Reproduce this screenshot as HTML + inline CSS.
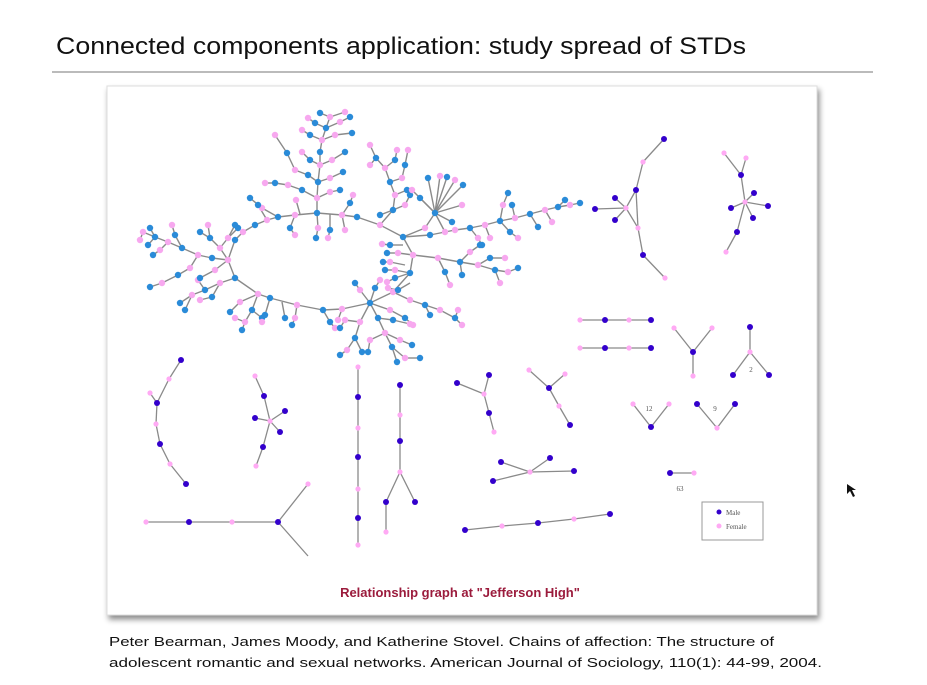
<!DOCTYPE html>
<html><head><meta charset="utf-8">
<style>
html,body{margin:0;padding:0;background:#fff;}
body{width:927px;height:680px;overflow:hidden;position:relative;font-family:"Liberation Sans",sans-serif;}
</style></head>
<body>
<svg id="page" width="927" height="680" viewBox="0 0 927 680" xmlns="http://www.w3.org/2000/svg">
  <defs>
    <filter id="sh" x="-5%" y="-5%" width="110%" height="112%">
      <feDropShadow dx="2" dy="4" stdDeviation="3" flood-color="#000" flood-opacity="0.45"/>
    </filter>
  </defs>
  <text x="56" y="54" font-family="Liberation Sans, sans-serif" font-size="24" fill="#111" textLength="690" lengthAdjust="spacingAndGlyphs">Connected components application:  study spread of STDs</text>
  <line x1="52" y1="72" x2="873" y2="72" stroke="#bbb" stroke-width="2"/>
  <rect x="107" y="86" width="710" height="529" fill="#fff" stroke="#ddd" stroke-width="1" filter="url(#sh)"/>
  <g id="graph"></g>
  <g>
    <rect x="702" y="502" width="61" height="38" fill="#fff" stroke="#999" stroke-width="1"/>
    <circle cx="719" cy="512" r="2.5" fill="#3300cc"/>
    <text x="726" y="515" font-family="Liberation Serif, serif" font-size="7" fill="#555">Male</text>
    <circle cx="719" cy="526" r="2.5" fill="#ffaaf4"/>
    <text x="726" y="529" font-family="Liberation Serif, serif" font-size="7" fill="#555">Female</text>
  </g>
  <text x="460" y="597" text-anchor="middle" font-family="Liberation Sans, sans-serif" font-size="13" font-weight="bold" fill="#9b1b3c">Relationship graph at "Jefferson High"</text>
  <text x="109" y="646" font-family="Liberation Sans, sans-serif" font-size="13" fill="#111" textLength="665" lengthAdjust="spacingAndGlyphs">Peter Bearman, James Moody, and Katherine Stovel. Chains of affection: The structure of</text>
  <text x="109" y="667" font-family="Liberation Sans, sans-serif" font-size="13" fill="#111" textLength="713" lengthAdjust="spacingAndGlyphs">adolescent romantic and sexual networks. American Journal of Sociology, 110(1): 44-99, 2004.</text>
  <path d="M847 484 L847 494 L850 491 L853 497 L855 496 L852 490 L856 490 Z" fill="#111"/>
</svg>
<script>
// Large component: ring + branches (page coordinates of nodes)
const bigRing = [[228,260],[235,240],[243,232],[255,225],[267,220],[278,217],[295,215],[317,213],[342,215],[357,217],[380,225],[403,237],[413,255],[410,273],[393,292],[370,303],[342,309],[323,310],[297,305],[270,298],[258,294],[235,278],[228,260]];
const bigBranches = [
 [[228,260],[212,258],[198,255],[182,248],[168,242],[155,237],[143,232]],
 [[198,255],[190,268],[178,275],[162,283],[150,287]],
 [[182,248],[175,235],[172,225]],[[168,242],[160,250],[153,255]],[[155,237],[148,245]],[[143,232],[140,240]],[[155,237],[150,228]],
 [[228,260],[220,248],[210,238],[208,225]],[[210,238],[200,232]],[[220,248],[228,238],[238,228]],[[228,238],[235,225]],
 [[235,278],[220,283],[205,290],[192,295],[180,303]],[[220,283],[212,297],[200,300]],[[205,290],[198,280]],[[192,295],[185,310]],
 [[228,260],[215,270],[200,278]],
 [[258,294],[252,310],[245,322],[242,330]],[[258,294],[240,302],[230,312]],[[252,310],[262,318]],[[245,322],[235,318]],[[270,298],[265,315],[262,322]],[[297,305],[295,318],[292,325]],[[323,310],[330,322],[335,328]],[[342,309],[338,320]],[[282,302],[285,318]],
 [[317,213],[317,198],[318,182],[320,165],[320,152],[322,140],[326,128],[330,117]],
 [[317,198],[302,190],[288,185],[275,183],[265,183]],[[317,198],[330,192],[340,190]],[[318,182],[308,175],[295,170],[287,153],[275,135]],[[318,182],[330,178],[343,172]],[[320,165],[310,160],[302,152]],[[320,165],[332,160],[345,152]],[[322,140],[310,135],[302,130]],[[322,140],[335,135],[352,133]],[[326,128],[315,123],[308,118]],[[326,128],[340,122],[350,117]],[[330,117],[320,113]],[[330,117],[345,112]],
 [[295,215],[290,228],[295,235]],[[278,217],[262,208],[250,198]],[[267,220],[258,205]],[[342,215],[345,230]],[[342,215],[350,203],[353,195]],[[317,213],[318,228],[316,238]],[[330,214],[330,230],[328,238]],[[300,214],[296,200]],
 [[380,225],[393,210],[395,195],[390,182],[385,168],[376,158],[370,145]],[[393,210],[405,205],[410,195]],[[395,195],[407,190]],[[390,182],[402,178],[405,165],[408,150]],[[385,168],[395,160],[397,150]],[[376,158],[370,165]],[[393,210],[380,215]],
 [[403,237],[425,228],[435,213]],
 [[435,213],[428,178]],[[435,213],[440,176]],[[435,213],[447,177]],[[435,213],[455,180]],[[435,213],[463,185]],[[435,213],[462,205]],[[435,213],[452,222]],[[435,213],[445,232]],[[435,213],[420,198]],[[435,213],[412,190]],
 [[403,237],[430,235],[455,230],[470,228],[485,225],[500,221],[515,218],[530,214],[545,210],[558,207],[570,205],[580,203]],
 [[500,221],[503,205],[508,193]],[[500,221],[510,232],[518,238]],[[485,225],[490,238]],[[530,214],[538,227]],[[545,210],[552,222]],[[558,207],[565,200]],[[470,228],[478,238],[482,245]],[[515,218],[512,205]],
 [[413,255],[438,258],[460,262],[478,265],[495,270],[508,272],[518,268]],[[438,258],[445,272],[450,285]],[[460,262],[470,252],[480,245]],[[478,265],[490,258],[505,258]],[[495,270],[500,283]],[[460,262],[462,275]],
 [[410,273],[395,270],[385,270]],[[410,273],[395,278],[387,282]],[[413,255],[398,253],[387,253]],[[403,245],[390,245],[382,244]],[[405,265],[390,262],[383,262]],[[410,283],[398,290],[388,288]],
 [[393,292],[410,300],[425,305],[440,310],[455,318],[462,325]],[[425,305],[430,315]],[[455,318],[458,310]],
 [[370,303],[378,318],[385,333],[392,347],[405,358],[420,358]],[[370,303],[360,322],[355,338],[347,350]],[[378,318],[393,320],[410,324]],[[385,333],[400,340],[412,345]],[[392,347],[397,362]],[[360,322],[345,320],[340,328]],[[355,338],[362,352]],[[370,303],[360,290],[355,283]],[[370,303],[375,288],[380,280]],[[385,333],[370,340],[368,352]],[[347,350],[340,355]],[[370,303],[390,310],[405,318],[413,325]]
];
// Small components: nodes [x, y, sex] (M / F) and edges by node index
const smallNodes = [
 [664,139,'M'],[643,162,'F'],[636,190,'M'],[638,228,'F'],[643,255,'M'],[665,278,'F'],[626,208,'F'],[595,209,'M'],[615,198,'M'],[615,220,'M'],
 [724,153,'F'],[741,175,'M'],[746,158,'F'],[745,202,'F'],[754,193,'M'],[768,206,'M'],[753,218,'M'],[731,208,'M'],[737,232,'M'],[726,252,'F'],
 [580,320,'F'],[605,320,'M'],[629,320,'F'],[651,320,'M'],
 [580,348,'F'],[605,348,'M'],[629,348,'F'],[651,348,'M'],
 [674,328,'F'],[712,328,'F'],[693,352,'M'],[693,376,'F'],
 [750,327,'M'],[750,352,'F'],[733,375,'M'],[769,375,'M'],
 [633,404,'F'],[669,404,'F'],[651,427,'M'],
 [697,404,'M'],[735,404,'M'],[717,428,'F'],
 [670,473,'M'],[694,473,'F'],
 [181,360,'M'],[169,379,'F'],[157,403,'M'],[150,393,'F'],[156,424,'F'],[160,444,'M'],[170,464,'F'],[186,484,'M'],
 [255,376,'F'],[264,396,'M'],[270,421,'F'],[285,411,'M'],[255,418,'M'],[280,432,'M'],[263,447,'M'],[256,466,'F'],
 [358,367,'F'],[358,397,'M'],[358,428,'F'],[358,457,'M'],[358,489,'F'],[358,518,'M'],[358,545,'F'],
 [400,385,'M'],[400,415,'F'],[400,441,'M'],[400,472,'F'],[386,502,'M'],[386,532,'F'],[415,502,'M'],
 [457,383,'M'],[484,394,'F'],[489,375,'M'],[489,413,'M'],[494,432,'F'],
 [529,370,'F'],[549,388,'M'],[565,374,'F'],[559,406,'F'],[570,425,'M'],
 [530,472,'F'],[501,462,'M'],[493,481,'M'],[550,458,'M'],[574,471,'M'],
 [465,530,'M'],[502,526,'F'],[538,523,'M'],[574,519,'F'],[610,514,'M'],
 [146,522,'F'],[189,522,'M'],[232,522,'F'],[278,522,'M'],[308,484,'F'],[308,556,'N']
];
const smallEdges = [
 [0,1],[1,2],[2,3],[3,4],[4,5],[2,6],[6,3],[6,7],[6,8],[6,9],
 [10,11],[12,11],[11,13],[13,14],[13,15],[13,16],[13,17],[13,18],[18,19],
 [20,21],[21,22],[22,23],[24,25],[25,26],[26,27],
 [28,30],[29,30],[30,31],[32,33],[33,34],[33,35],[36,38],[37,38],[39,41],[40,41],[42,43],
 [44,45],[45,46],[46,47],[46,48],[48,49],[49,50],[50,51],
 [52,53],[53,54],[54,55],[54,56],[54,57],[54,58],[58,59],
 [60,61],[61,62],[62,63],[63,64],[64,65],[65,66],
 [67,68],[68,69],[69,70],[70,71],[71,72],[70,73],
 [74,75],[75,76],[75,77],[77,78],
 [79,80],[80,81],[80,82],[82,83],
 [84,85],[84,86],[84,87],[84,88],
 [89,90],[90,91],[91,92],[92,93],
 [94,95],[95,96],[96,97],[97,98],[97,99]
];
const smallLabels = [['2',751,372],['12',649,411],['9',715,411],['63',680,491]];

const NS='http://www.w3.org/2000/svg';
const g=document.getElementById('graph');
const eg=document.createElementNS(NS,'g');


const ng=document.createElementNS(NS,'g');


g.appendChild(eg);g.appendChild(ng);

function line(a,b,w){
  const l=document.createElementNS(NS,'line');
  
  
  l.setAttribute('x1',a[0]);l.setAttribute('y1',a[1]);l.setAttribute('x2',b[0]);l.setAttribute('y2',b[1]);
  l.setAttribute('stroke','#8a8a8a');l.setAttribute('stroke-width',w);
  eg.appendChild(l);
}
function node(p,col,r){
  const c=document.createElementNS(NS,'circle');
  
  
  c.setAttribute('cx',p[0]);c.setAttribute('cy',p[1]);c.setAttribute('r',r);c.setAttribute('fill',col);
  ng.appendChild(c);
}
const BIGM='#2a8bd8', BIGF='#f7a8ef';
bigRing.forEach((p,i)=>{ if(i>0) line(bigRing[i-1],p,1.4); });
bigBranches.forEach(br=>{ br.forEach((p,i)=>{ if(i>0) line(br[i-1],p,1.4); }); });
bigRing.forEach((p,i)=>{ if(i<bigRing.length-1) node(p, i%2?BIGM:BIGF, 3.2); });
bigBranches.forEach((br,bi)=>{ br.forEach((p,i)=>{ if(i>0) node(p,(i+bi)%2?BIGM:BIGF,3.2); }); });

smallEdges.forEach(e=>line(smallNodes[e[0]],smallNodes[e[1]],1.3));
smallNodes.forEach(n=>{ if(n[2]!=='N') node(n, n[2]==='M'?'#3300cc':'#ffaaf4', n[2]==='M'?3:2.6); });
smallLabels.forEach(l=>{
  const t=document.createElementNS(NS,'text');
  
  
  t.setAttribute('x',l[1]);t.setAttribute('y',l[2]);
  t.setAttribute('text-anchor','middle');t.setAttribute('font-size','7');
  t.setAttribute('font-family','Liberation Serif, serif');t.setAttribute('fill','#555');
  t.textContent=l[0];
  g.appendChild(t);
});
</script>
</body></html>
